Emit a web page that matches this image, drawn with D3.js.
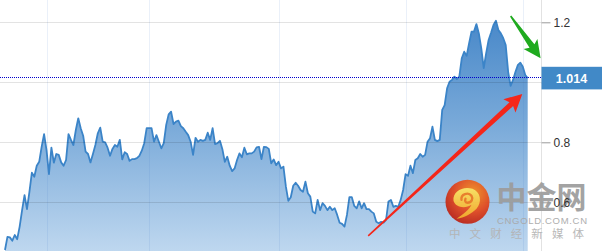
<!DOCTYPE html>
<html>
<head>
<meta charset="utf-8">
<script src="https://cdnjs.cloudflare.com/ajax/libs/d3/7.8.5/d3.min.js"></script>
<style>
body { margin: 0; background: #fff; }
svg { display: block; }
</style>
</head>
<body>
<script>
// price series, one value per session
var prices = [
    0.441, 0.485, 0.483, 0.472, 0.491, 0.477, 0.519, 0.574, 0.624, 0.577,
    0.635, 0.699, 0.685, 0.722, 0.735, 0.785, 0.827, 0.774, 0.694, 0.782,
    0.732, 0.761, 0.758, 0.733, 0.722, 0.741, 0.827, 0.808, 0.791, 0.841,
    0.880, 0.847, 0.822, 0.769, 0.761, 0.733, 0.761, 0.791, 0.830, 0.849,
    0.802, 0.800, 0.782, 0.755, 0.778, 0.791, 0.785, 0.808, 0.743, 0.767,
    0.761, 0.738, 0.744, 0.744, 0.747, 0.755, 0.772, 0.797, 0.847, 0.847,
    0.847, 0.802, 0.824, 0.802, 0.780, 0.797, 0.858, 0.893, 0.902, 0.861,
    0.869, 0.872, 0.854, 0.847, 0.835, 0.824, 0.802, 0.758, 0.815, 0.802,
    0.808, 0.805, 0.808, 0.832, 0.808, 0.847, 0.794, 0.797, 0.805, 0.777,
    0.735, 0.752, 0.722, 0.704, 0.713, 0.741, 0.763, 0.750, 0.782, 0.760,
    0.763, 0.763, 0.769, 0.783, 0.785, 0.744, 0.785, 0.784, 0.778, 0.730,
    0.743, 0.724, 0.735, 0.713, 0.719, 0.652, 0.605, 0.617, 0.655, 0.665,
    0.655, 0.641, 0.635, 0.669, 0.630, 0.619, 0.569, 0.563, 0.608, 0.574,
    0.597, 0.588, 0.574, 0.585, 0.574, 0.580, 0.558, 0.532, 0.528, 0.519,
    0.558, 0.617, 0.617, 0.588, 0.580, 0.603, 0.580, 0.597, 0.577, 0.577,
    0.569, 0.563, 0.535, 0.530, 0.535, 0.532, 0.541, 0.603, 0.608, 0.585,
    0.588, 0.585, 0.608, 0.641, 0.694, 0.688, 0.722, 0.697, 0.741, 0.747,
    0.761, 0.752, 0.758, 0.802, 0.813, 0.852, 0.808, 0.804, 0.808,
    0.908, 0.924, 0.980, 1.002, 1.008, 1.019, 1.011, 1.019,
    1.080, 1.102, 1.088, 1.130, 1.169, 1.169,
    1.194, 1.163, 1.113, 1.047, 1.097, 1.141, 1.165, 1.191, 1.205, 1.174,
    1.163, 1.147, 1.124, 1.035, 0.988, 1.008, 1.035, 1.058, 1.065, 1.052,
    1.024, 1.014
];
var lastPrice = 1.014;
var yTicks = [0.6, 0.8, 1.0, 1.2];
// 1.0 sits under the last price box, so it has no visible label
var yTickLabels = ["0.6", "0.8", "", "1.2"];
var gridSessions = [17, 59, 112, 164, 212];

// annotation arrows, [session, price]
var redArrow = [[148.7, 0.488], [211.8, 0.961]];
var greenArrow = [[207.0, 1.221], [219.3, 1.080]];

var watermarkTitle = "中金网";
var watermarkSite = "CNGOLD.COM.CN";
var watermarkSub = "中文财经新媒体";

// canvas dimensions
const canvWidth = 602, canvHeight = 251;
const plotLeft = 5, plotRight = 527.7, axisX = 541.5;

const svg = d3.select("body").append("svg")
    .attr("width", canvWidth)
    .attr("height", canvHeight);

const xScale = d3.scaleLinear()
    .domain([0, prices.length - 1])
    .range([plotLeft, plotRight]);

const yScale = d3.scaleLinear()
    .domain([0.6, 1.2])
    .range([202.3, 22.3]);

const defs = svg.append("defs");

var areaGrad = defs.append("linearGradient")
    .attr("id", "areaGrad")
    .attr("gradientUnits", "userSpaceOnUse")
    .attr("x1", 0).attr("y1", 0).attr("x2", 0).attr("y2", canvHeight);
areaGrad.append("stop").attr("offset", "0%").attr("stop-color", "#3f82c6");
areaGrad.append("stop").attr("offset", "50%").attr("stop-color", "#7aaad9");
areaGrad.append("stop").attr("offset", "100%").attr("stop-color", "#bed7ef");

var logoGrad = defs.append("radialGradient")
    .attr("id", "logoGrad")
    .attr("cx", "62%").attr("cy", "30%").attr("r", "75%");
logoGrad.append("stop").attr("offset", "0%").attr("stop-color", "#f7901e");
logoGrad.append("stop").attr("offset", "55%").attr("stop-color", "#e4471b");
logoGrad.append("stop").attr("offset", "100%").attr("stop-color", "#b91d12");

var swirlGrad = defs.append("linearGradient")
    .attr("id", "swirlGrad")
    .attr("x1", 0).attr("y1", 0).attr("x2", 0).attr("y2", 1);
swirlGrad.append("stop").attr("offset", "0%").attr("stop-color", "#ffe45c");
swirlGrad.append("stop").attr("offset", "100%").attr("stop-color", "#f7a21c");

// area + line
var area = d3.area()
    .x((d, i) => xScale(i))
    .y0(canvHeight)
    .y1(d => yScale(d))
    .curve(d3.curveLinear);

var line = d3.line()
    .x((d, i) => xScale(i))
    .y(d => yScale(d))
    .curve(d3.curveLinear);

svg.append("path")
    .datum(prices)
    .attr("d", area)
    .attr("fill", "url(#areaGrad)");

svg.append("path")
    .datum(prices)
    .attr("d", line)
    .attr("fill", "none")
    .attr("stroke", "#3b84c8")
    .attr("stroke-width", 1.8)
    .attr("stroke-linejoin", "round");

// grid, drawn over the area so it shows through
svg.append("g")
    .selectAll("line")
    .data(gridSessions).enter()
    .append("line")
    .attr("x1", d => Math.round(xScale(d)) + 0.5)
    .attr("x2", d => Math.round(xScale(d)) + 0.5)
    .attr("y1", 0)
    .attr("y2", canvHeight)
    .attr("stroke", "rgba(60,120,200,0.11)");

svg.append("g")
    .selectAll("line")
    .data(yTicks).enter()
    .append("line")
    .attr("x1", 0)
    .attr("x2", axisX)
    .attr("y1", d => Math.round(yScale(d)) + 0.5)
    .attr("y2", d => Math.round(yScale(d)) + 0.5)
    .attr("stroke", "rgba(0,0,0,0.11)");

svg.append("line")
    .attr("x1", axisX).attr("x2", axisX)
    .attr("y1", 0).attr("y2", canvHeight)
    .attr("stroke", "#e2e2e2");

// current price marker
var lastY = Math.round(yScale(lastPrice)) - 0.5;
svg.append("line")
    .attr("x1", 0).attr("x2", axisX)
    .attr("y1", lastY).attr("y2", lastY)
    .attr("stroke", "#0000cc")
    .attr("stroke-width", 1)
    .attr("stroke-dasharray", "1,1");

// watermark
const mark = svg.append("g").attr("opacity", 0.92);

const logo = mark.append("g")
    .attr("transform", "translate(467.5,201.8)");
logo.append("circle")
    .attr("r", 22)
    .attr("fill", "url(#logoGrad)");
logo.append("path")
    .attr("d", "M-14,-1 C-15,-11 -4,-16 5,-13 C13,-10 15,0 9,7 C4,12 -3,16 -11,17 C-4,12 2,8 4,3 C-2,7 -12,6 -14,-1 Z")
    .attr("fill", "url(#swirlGrad)");
logo.append("path")
    .attr("d", "M-6,-2 C-7,-8 1,-10 4,-6 C6,-3 4,1 0,1 C-2,1 -3,-1 -2,-3")
    .attr("fill", "none")
    .attr("stroke", "#ef7a1e")
    .attr("stroke-width", 2.4)
    .attr("stroke-linecap", "round");

mark.append("text")
    .attr("x", 496.5)
    .attr("y", 207.5)
    .attr("font-family", "Noto Sans CJK SC")
    .attr("font-weight", "bold")
    .attr("font-size", "30px")
    .attr("fill", "#9c9c9c")
    .attr("textLength", 90)
    .text(watermarkTitle);

mark.append("text")
    .attr("x", 497)
    .attr("y", 223.5)
    .attr("font-family", "Liberation Sans, Arial, sans-serif")
    .attr("font-size", "9.5px")
    .attr("fill", "#a8a8a8")
    .attr("textLength", 90)
    .attr("lengthAdjust", "spacing")
    .text(watermarkSite);

mark.append("text")
    .attr("x", 449)
    .attr("y", 237.5)
    .attr("font-family", "Noto Sans CJK SC")
    .attr("font-size", "11.5px")
    .attr("fill", "#b3b3b3")
    .attr("textLength", 135)
    .attr("lengthAdjust", "spacing")
    .text(watermarkSub);

// right axis
var yAxis = d3.axisRight(yScale)
    .tickValues(yTicks)
    .tickFormat((d, i) => yTickLabels[i])
    .tickSize(9)
    .tickPadding(3);

var axisG = svg.append("g")
    .attr("transform", "translate(" + axisX + ",0)")
    .call(yAxis);
axisG.select(".domain").remove();
axisG.selectAll(".tick line").attr("stroke", "#9a9a9a");
axisG.selectAll(".tick text")
    .attr("fill", "#333")
    .attr("font-family", "Liberation Sans, Arial, sans-serif")
    .attr("font-size", "12px");

// last price label
svg.append("rect")
    .attr("x", axisX)
    .attr("y", yScale(lastPrice) - 11.3)
    .attr("width", canvWidth - axisX)
    .attr("height", 22.6)
    .attr("fill", "#4189c7");

svg.append("text")
    .attr("x", 571.5)
    .attr("y", yScale(lastPrice) + 4.5)
    .attr("text-anchor", "middle")
    .attr("font-family", "Liberation Sans, Arial, sans-serif")
    .attr("font-weight", "bold")
    .attr("font-size", "12.5px")
    .attr("fill", "#fff")
    .text(d3.format(".3f")(lastPrice));

// annotation arrows
function arrowPath(p1, p2, headLen, headHalf, tailHalf, neckHalf) {
    var x1 = xScale(p1[0]), y1 = yScale(p1[1]);
    var x2 = xScale(p2[0]), y2 = yScale(p2[1]);
    var dx = x2 - x1, dy = y2 - y1;
    var len = Math.hypot(dx, dy);
    var ux = dx / len, uy = dy / len, nx = -uy, ny = ux;
    var bx = x2 - ux * headLen, by = y2 - uy * headLen;
    var wx = bx - ux * 2.5, wy = by - uy * 2.5;
    var pts = [
        [x1 + nx * tailHalf, y1 + ny * tailHalf],
        [bx + nx * neckHalf, by + ny * neckHalf],
        [wx + nx * headHalf, wy + ny * headHalf],
        [x2, y2],
        [wx - nx * headHalf, wy - ny * headHalf],
        [bx - nx * neckHalf, by - ny * neckHalf],
        [x1 - nx * tailHalf, y1 - ny * tailHalf]
    ];
    return "M" + pts.map(p => p[0].toFixed(1) + "," + p[1].toFixed(1)).join("L") + "Z";
}

svg.append("path")
    .attr("d", arrowPath(redArrow[0], redArrow[1], 15, 9, 0.8, 2.6))
    .attr("fill", "#f4261a");

svg.append("path")
    .attr("d", arrowPath(greenArrow[0], greenArrow[1], 15, 8.5, 0.8, 3))
    .attr("fill", "#1faa1f");
</script>
</body>
</html>
